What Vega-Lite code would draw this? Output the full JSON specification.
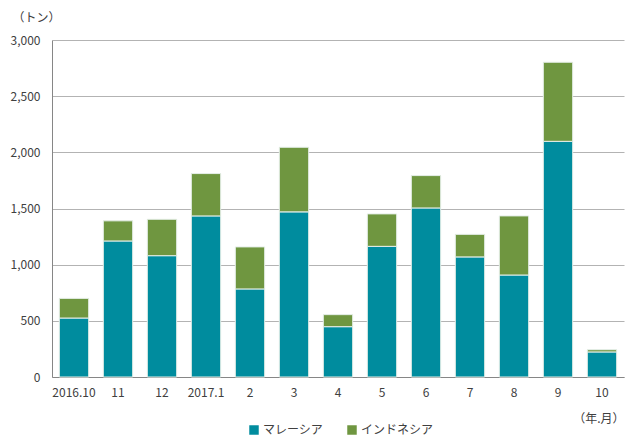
{
  "$schema": "https://vega.github.io/schema/vega-lite/v6.json",
  "autosize": {"type": "none"},
  "width": 572,
  "height": 337,
  "padding": {"left": 52, "top": 40, "right": 5, "bottom": 60},
  "background": "white",
  "config": {
    "font": "Noto Sans CJK JP",
    "view": {"stroke": null},
    "axis": {"labelColor": "#404040", "labelFontSize": 12, "titleColor": "#404040", "titleFontWeight": "normal", "titleFontSize": 12}
  },
  "data": {
    "values": [
      {"month": "2016.10", "country": "マレーシア", "tons": 525},
      {"month": "2016.10", "country": "インドネシア", "tons": 175},
      {"month": "11", "country": "マレーシア", "tons": 1211},
      {"month": "11", "country": "インドネシア", "tons": 179},
      {"month": "12", "country": "マレーシア", "tons": 1080},
      {"month": "12", "country": "インドネシア", "tons": 324},
      {"month": "2017.1", "country": "マレーシア", "tons": 1434},
      {"month": "2017.1", "country": "インドネシア", "tons": 377},
      {"month": "2", "country": "マレーシア", "tons": 784},
      {"month": "2", "country": "インドネシア", "tons": 374},
      {"month": "3", "country": "マレーシア", "tons": 1470},
      {"month": "3", "country": "インドネシア", "tons": 575},
      {"month": "4", "country": "マレーシア", "tons": 448},
      {"month": "4", "country": "インドネシア", "tons": 107},
      {"month": "5", "country": "マレーシア", "tons": 1163},
      {"month": "5", "country": "インドネシア", "tons": 289},
      {"month": "6", "country": "マレーシア", "tons": 1505},
      {"month": "6", "country": "インドネシア", "tons": 288},
      {"month": "7", "country": "マレーシア", "tons": 1069},
      {"month": "7", "country": "インドネシア", "tons": 201},
      {"month": "8", "country": "マレーシア", "tons": 908},
      {"month": "8", "country": "インドネシア", "tons": 526},
      {"month": "9", "country": "マレーシア", "tons": 2098},
      {"month": "9", "country": "インドネシア", "tons": 704},
      {"month": "10", "country": "マレーシア", "tons": 223},
      {"month": "10", "country": "インドネシア", "tons": 20}
    ]
  },
  "mark": {"type": "bar", "stroke": "#e6efe9", "strokeWidth": 1},
  "encoding": {
    "x": {
      "field": "month",
      "type": "nominal",
      "sort": null,
      "scale": {"paddingInner": 0.333, "paddingOuter": 0.1665},
      "axis": {
        "title": "（年.月）",
        "titleX": 572,
        "titleY": 41,
        "titleAlign": "right",
        "titleBaseline": "middle",
        "labelAngle": 0,
        "labelPadding": 10,
        "ticks": false,
        "domainColor": "#868686",
        "grid": false
      }
    },
    "y": {
      "field": "tons",
      "type": "quantitative",
      "stack": "zero",
      "scale": {"domain": [0, 3000], "nice": false},
      "axis": {
        "title": "（トン）",
        "titleAngle": 0,
        "titleX": -16,
        "titleY": -23,
        "titleAlign": "center",
        "titleBaseline": "middle",
        "values": [0, 500, 1000, 1500, 2000, 2500, 3000],
        "format": ",d",
        "ticks": false,
        "labelPadding": 12,
        "domainColor": "#868686",
        "gridColor": "#b3b3b3",
        "gridWidth": 1
      }
    },
    "color": {
      "field": "country",
      "type": "nominal",
      "sort": ["マレーシア", "インドネシア"],
      "scale": {"domain": ["マレーシア", "インドネシア"], "range": ["#008C9E", "#6F9640"]},
      "legend": {
        "title": null,
        "orient": "none",
        "legendX": 196,
        "legendY": 384,
        "direction": "horizontal",
        "symbolType": "square",
        "symbolSize": 90,
        "symbolStrokeWidth": 0,
        "labelFontSize": 12,
        "labelColor": "#404040",
        "columnPadding": 22,
        "labelOffset": 3
      }
    }
  }
}
